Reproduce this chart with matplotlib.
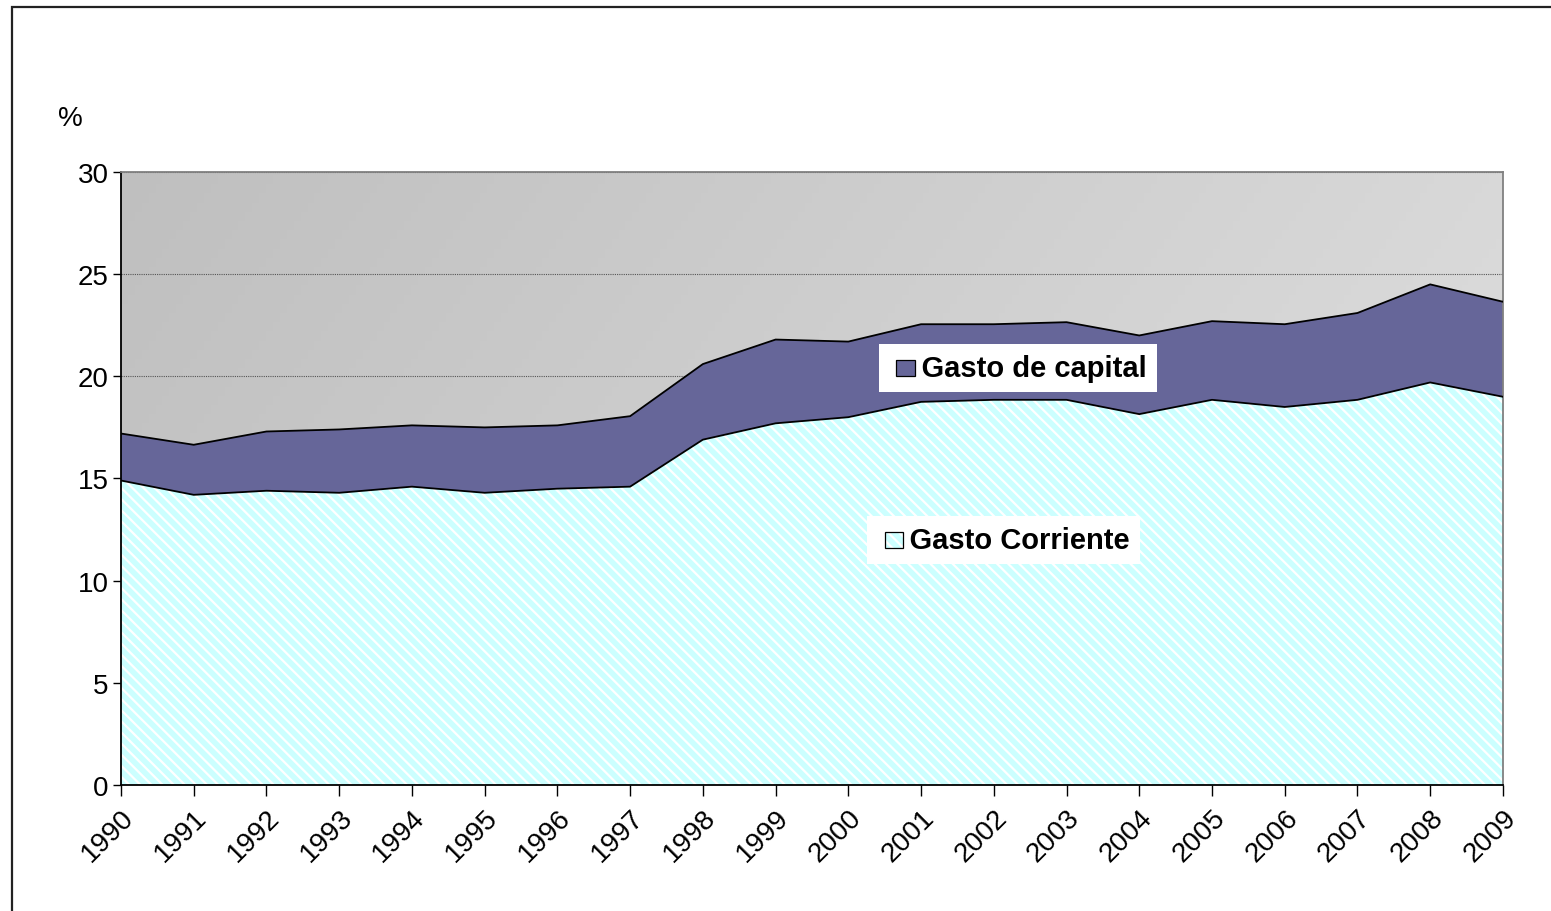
import matplotlib.pyplot as plt
import numpy as np
from matplotlib.patches import Rectangle

plt.rcParams['font.family'] = ['Liberation Sans', 'DejaVu Sans']
plt.rcParams['hatch.linewidth'] = 1.6

# Data (% of GDP)
years = list(range(1990, 2010))
gasto_corriente = [14.9, 14.2, 14.4, 14.3, 14.6, 14.3, 14.5, 14.6, 16.9, 17.7,
                   18.0, 18.75, 18.85, 18.85, 18.15, 18.85, 18.5, 18.85, 19.7, 19.0]
gasto_total = [17.2, 16.65, 17.3, 17.4, 17.6, 17.5, 17.6, 18.05, 20.6, 21.8,
               21.7, 22.55, 22.55, 22.65, 22.0, 22.7, 22.55, 23.1, 24.5, 23.65]
yticks = [0, 5, 10, 15, 20, 25, 30]

CYAN = '#ccffff'
PURPLE = '#666699'
HATCH = '\\\\\\'

fig = plt.figure(figsize=(15.51, 9.12), dpi=100)
ax = fig.add_axes([0.078, 0.1382, 0.891, 0.6721])

# outer frame of the figure
fig.patches.append(Rectangle((12 / 1551, -0.01), 1.05, 1 - 8 / 912 + 0.01,
                             transform=fig.transFigure, fill=False,
                             edgecolor='#222222', linewidth=1.6))

# gray gradient background (darker top-left, lighter bottom-right)
gx, gy = np.meshgrid(np.linspace(0, 1, 200), np.linspace(0, 1, 200))
shade = 0.75 + 0.13 * (0.75 * gx + 0.25 * gy)
ax.imshow(np.dstack([shade, shade, shade]), extent=[1990, 2009, 0, 30],
          origin='upper', aspect='auto', zorder=0)

ax.grid(axis='y', color='#555555', linestyle=(0, (1, 1)), linewidth=0.8, zorder=1)

ax.fill_between(years, 0, gasto_corriente, facecolor=CYAN, hatch=HATCH,
                edgecolor='white', linewidth=0, zorder=2)
ax.fill_between(years, gasto_corriente, gasto_total, facecolor=PURPLE,
                linewidth=0, zorder=2)
ax.plot(years, gasto_corriente, color='black', linewidth=1.3, zorder=3)
ax.plot(years, gasto_total, color='black', linewidth=1.3, zorder=3)

ax.set_xlim(1990, 2009)
ax.set_ylim(0, 30)
ax.set_yticks(yticks)
ax.set_xticks(years)
ax.set_xticklabels([str(y) for y in years], rotation=45, ha='right',
                   rotation_mode='anchor', fontsize=20)
ax.tick_params(axis='y', labelsize=20, length=6, width=1, direction='out', pad=3)
ax.tick_params(axis='x', length=8, width=1, direction='out', pad=6)

for s in ['top', 'right']:
    ax.spines[s].set_color('#808080')
    ax.spines[s].set_linewidth(1.3)
for s in ['left', 'bottom']:
    ax.spines[s].set_color('black')
    ax.spines[s].set_linewidth(1.3)

fig.text(70 / 1551, 1 - 119 / 912, '%', fontsize=20, ha='center', va='center')


# legend entries placed inside the plot
def legend_entry(x, y, label, color, hatch=None):
    ax.text(x, y, '    ' + label, fontsize=21, fontweight='bold', va='center', ha='left',
            bbox=dict(boxstyle='square,pad=0.35', facecolor='white', edgecolor='none'),
            zorder=5)
    ax.add_patch(Rectangle((x + 0.1, y - 0.4), 0.25, 0.8, facecolor=color,
                           edgecolor='white', linewidth=0, hatch=hatch, zorder=6))
    ax.add_patch(Rectangle((x + 0.1, y - 0.4), 0.25, 0.8, fill=False,
                           edgecolor='black', linewidth=0.9, zorder=7))


legend_entry(2000.56, 20.4, 'Gasto de capital', PURPLE)
legend_entry(2000.4, 12.0, 'Gasto Corriente', CYAN, hatch=HATCH)

fig.savefig('out.png', dpi=100)
